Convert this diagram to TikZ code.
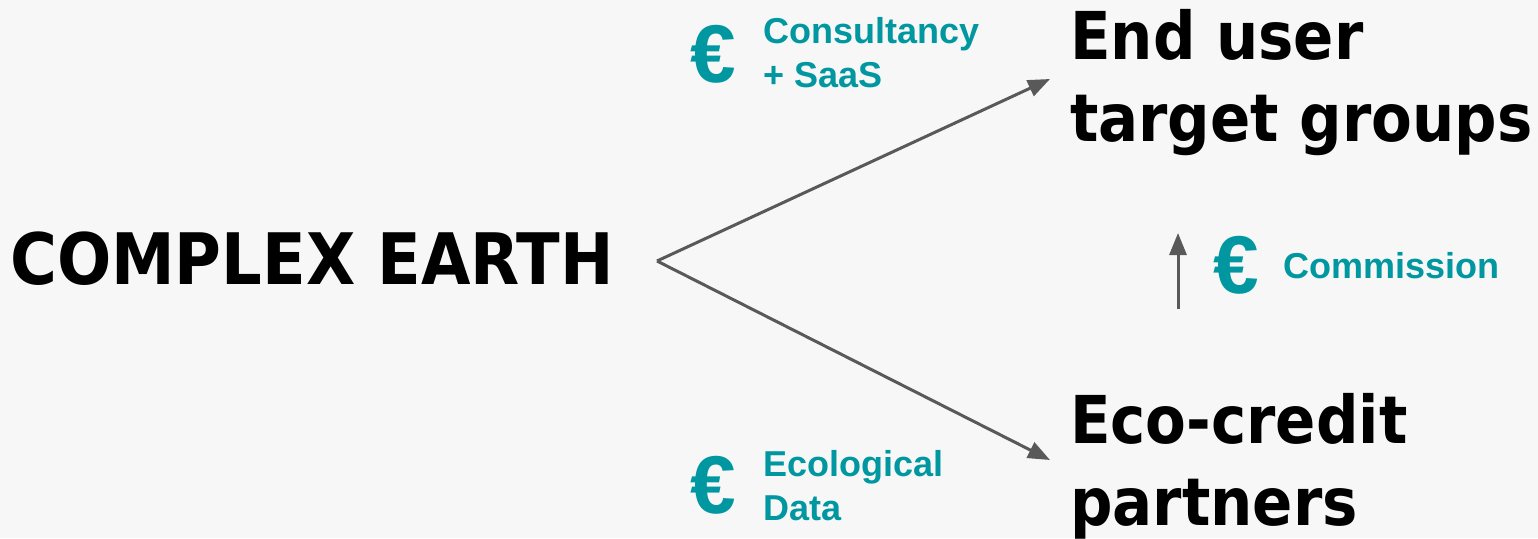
\documentclass[tikz,border=0pt]{standalone}
\usepackage{fontspec}
\usetikzlibrary{arrows.meta}
\newfontfamily\headfont{DejaVu Sans Condensed}
\newfontfamily\tagfont{Liberation Sans}
\definecolor{pfeil}{RGB}{89,89,89}
\definecolor{money}{RGB}{0,151,161}
\definecolor{hinter}{RGB}{247,247,247}

\begin{document}
\begin{tikzpicture}[x=1pt,y=-1pt,
    head/.style={anchor=base west,inner sep=0pt,align=left,
        font=\headfont\bfseries\fontsize{66}{82}\selectfont},
    pay/.style={anchor=base west,inner sep=0pt,align=left,text=money,
        font=\tagfont\bfseries\fontsize{36}{44}\selectfont},
    euro/.style={anchor=base west,inner sep=0pt,text=money,
        font=\tagfont\bfseries\fontsize{82}{90}\selectfont},
    flow/.style={pfeil,line width=3pt,-{Triangle[length=22pt,width=17pt]}}]
    \useasboundingbox[fill=hinter] (0,0) rectangle (1538,538);

    % base anchor of a two-line node sits on its last line
    \node[head,font=\headfont\bfseries\fontsize{71}{82}\selectfont] (earth) at (10,284) {COMPLEX EARTH};
    \node[head] (user) at (1070,141) {End user\\target groups};
    \node[head] (partner) at (1070,525) {Eco-credit\\partners};

    \node[euro] (eurosaas) at (690,82) {€};
    \node[pay] (saas) at (763,87) {Consultancy\\+ SaaS};
    \node[euro] (eurodata) at (690,513) {€};
    \node[pay] (data) at (763,520) {Ecological\\Data};
    \node[euro] (eurocomm) at (1213,293) {€};
    \node[pay] (comm) at (1283,278) {Commission};

    % arrows
    \coordinate (split) at (657,261);
    \coordinate (userend) at (1050,79);
    \coordinate (partnerend) at (1050,460);
    \coordinate (commfoot) at (1178,309);
    \coordinate (commtip) at (1178,233);
    \draw[flow] (split) -- (userend);
    \draw[flow] (split) -- (partnerend);
    \draw[flow] (commfoot) -- (commtip);
\end{tikzpicture}
\end{document}
